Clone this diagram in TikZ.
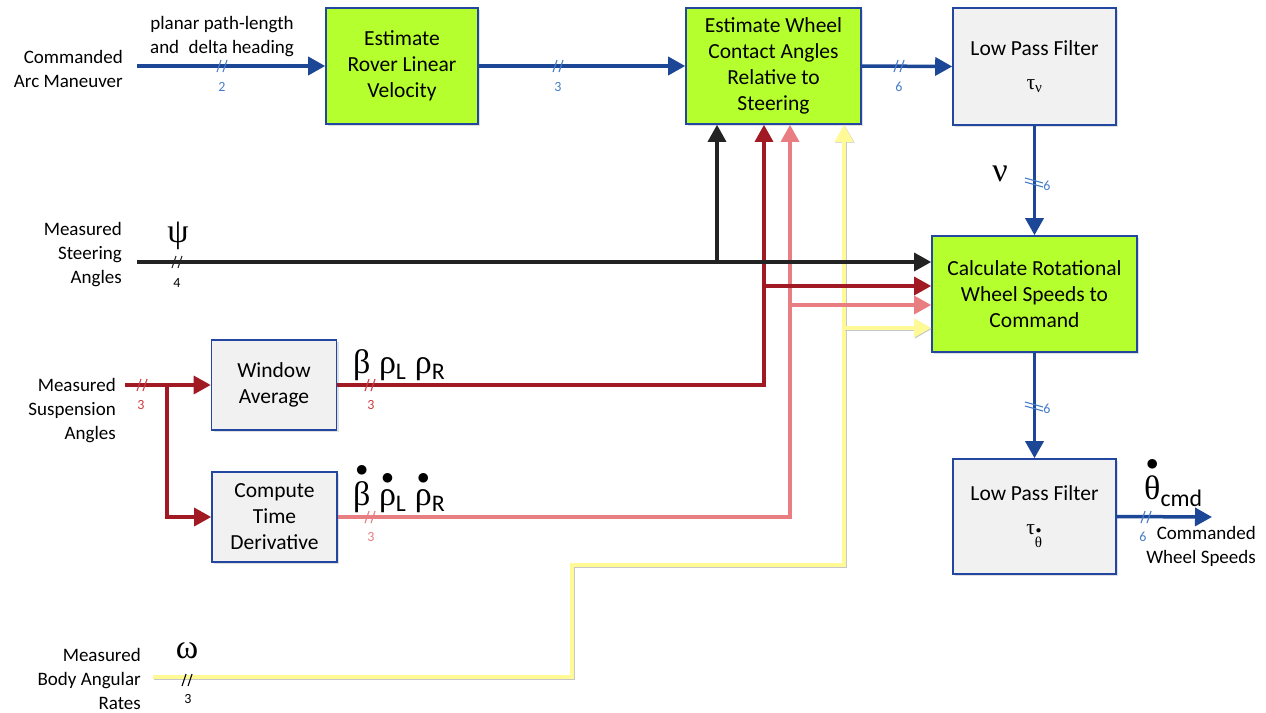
\documentclass[tikz,border=0pt]{standalone}
\usepackage{fontspec}
\usepackage{amsmath}
\setmainfont{Carlito}
\newfontfamily\gk{Liberation Serif}
\usetikzlibrary{arrows.meta,shadows}
\definecolor{boxgreen}{RGB}{182,255,46}
\definecolor{boxgray}{RGB}{241,241,241}
\definecolor{edgeblue}{RGB}{35,70,160}
\definecolor{flowblue}{RGB}{28,70,150}
\definecolor{numblue}{RGB}{70,125,200}
\definecolor{darkred}{RGB}{160,25,35}
\definecolor{numred}{RGB}{205,60,65}
\definecolor{pinkline}{RGB}{232,125,130}
\definecolor{yelline}{RGB}{255,250,150}
\definecolor{blackline}{RGB}{35,35,35}
\newcommand\dotover[1]{$\overset{\bullet}{\text{#1}}$}
\newcommand\sub[1]{\textsubscript{\fontspec{Carlito}#1}}
\tikzset{
  boxbase/.style={draw=edgeblue, line width=1.6pt, inner sep=0pt, align=center,
    font=\fontsize{21.5}{26}\selectfont,
    drop shadow={opacity=0.25, shadow xshift=2pt, shadow yshift=-2pt}},
  greenbox/.style={boxbase, fill=boxgreen},
  graybox/.style={boxbase, fill=boxgray},
  lbl/.style={font=\fontsize{19}{24}\selectfont, align=right, inner sep=0pt},
  num/.style={font=\fontsize{14}{14}\selectfont, inner sep=0pt},
  gklbl/.style={font=\gk\fontsize{34}{34}\selectfont, inner sep=0pt},
  tip/.style={-{Triangle[length=17pt,width=18pt]}},
  bflow/.style={draw=flowblue, line width=3.5pt},
  kflow/.style={draw=blackline, line width=3.2pt},
  rflow/.style={draw=darkred, line width=3.2pt},
  pflow/.style={draw=pinkline, line width=3.2pt},
  yflow/.style={draw=yelline, line width=3.2pt,
    preaction={draw=black!22, line width=4.2pt, transform canvas={xshift=0.8pt,yshift=-0.8pt}}},
  pics/dsl/.style={code={\draw[line width=1.1pt,#1] (-5,6)--(-1,-6) (1,6)--(5,-6);}},
  pics/dslv/.style={code={\draw[line width=1.1pt,#1] (-9,-5)--(9,0) (-9,-1)--(9,4);}},
}
\begin{document}
\begin{tikzpicture}[x=1pt,y=-1pt]
\useasboundingbox[fill=white] (0,0) rectangle (1266,712);

% ---- blocks
\node[greenbox, minimum width=152, minimum height=116] (b1) at (402,66) {Estimate\\Rover Linear\\Velocity};
\node[greenbox, minimum width=175, minimum height=116] (b2) at (773.5,66) {Estimate Wheel\\Contact Angles\\Relative to\\Steering};
\node[graybox, minimum width=163, minimum height=117] (lp1) at (1034.5,66.5) {Low Pass Filter\\[8pt]{\gk τ\textsubscript{ν}}};
\node[greenbox, minimum width=205, minimum height=116] (calc) at (1034.5,294) {Calculate Rotational\\Wheel Speeds to\\Command};
\node[graybox, minimum width=125, minimum height=90] (wa) at (274,385) {Window\\Average};
\node[graybox, minimum width=125, minimum height=90] (ctd) at (274.5,517) {Compute\\Time\\Derivative};
\node[graybox, minimum width=163, minimum height=115] (lp2) at (1034.5,516.5) {Low Pass Filter\\[8pt]{\gk τ\textsubscript{\dotover{θ}}}};

% ---- input labels
\node[lbl, anchor=east] (camL) at (123,69) {Commanded\\Arc Maneuver};
\node[lbl, anchor=east] (stL) at (122,255) {Measured\\Steering\\Angles};
\node[lbl, anchor=east] (suL) at (116,411) {Measured\\Suspension\\Angles};
\node[lbl, anchor=east] (omL) at (141,679) {Measured\\Body Angular\\Rates};
\node[lbl, anchor=east] (outL) at (1256,546) {Commanded\\Wheel Speeds};
\node[lbl, align=center] (ppl) at (222,37) {planar path-length\\and\enspace delta heading};

% ---- coordinates
\coordinate (camS) at (137,66);
\coordinate (stS) at (137,262);
\coordinate (stJ) at (717,262);
\coordinate (suS) at (125,385);
\coordinate (suJ) at (167,385);
\coordinate (waT) at (764,385);
\coordinate (waB) at (764,286);
\coordinate (ctT) at (790,517);
\coordinate (ctB) at (790,305);
\coordinate (omS) at (153,677);
\coordinate (omA) at (572,677);
\coordinate (omB) at (572,565);
\coordinate (omC) at (844,565);
\coordinate (omD) at (844,328);
\coordinate (outE) at (1212,517);

% ---- blue flow
\draw[bflow, tip] (camS) -- (b1.west);
\draw[bflow, tip] (b1.east) -- (b2.west);
\draw[bflow, tip] (b2.east) -- (lp1.west);
\draw[bflow, tip] (lp1.south) -- (calc.north);
\draw[bflow, tip] (calc.south) -- (lp2.north);
\draw[bflow, tip] (lp2.east) -- (outE);

% ---- yellow
\draw[yflow, tip] (omS) -- (omA) -- (omB) -- (omC) -- (omC |- b2.south);
\draw[yflow, tip] (omD) -- (calc.west |- omD);

% ---- pink
\draw[pflow, tip] (ctd.east) -- (ctT) -- (ctT |- b2.south);
\draw[pflow, tip] (ctB) -- (calc.west |- ctB);

% ---- dark red
\draw[rflow, tip] (suS) -- (wa.west);
\draw[rflow, tip] (suJ) -- (suJ |- ctd.west) -- (ctd.west);
\draw[rflow, tip] (wa.east) -- (waT) -- (waT |- b2.south);
\draw[rflow, tip] (waB) -- (calc.west |- waB);

% ---- black
\draw[kflow, tip] (stS) -- (calc.west |- stS);
\draw[kflow, tip] (stJ) -- (stJ |- b2.south);

% ---- slash marks and counts
\pic at (222,66) {dsl=numblue};
\node[num, text=numblue] (n1) at (222,87) {2};
\pic at (558,66) {dsl=numblue};
\node[num, text=numblue] (n2) at (558,87) {3};
\pic at (899,66) {dsl=numblue};
\node[num, text=numblue] (n3) at (899,87) {6};
\pic at (1034,183) {dslv=numblue};
\node[num, text=numblue] (n4) at (1047,186) {6};
\pic at (1034,407) {dslv=numblue};
\node[num, text=numblue] (n5) at (1047,409) {6};
\pic at (1146,517) {dsl=numblue};
\node[num, text=numblue] (n6) at (1143,537) {6};
\pic at (177,262) {dsl=blackline};
\node[num, text=black] (n7) at (177,283) {4};
\pic at (142,385) {dsl=numred};
\node[num, text=numred] (n8) at (141,405) {3};
\pic at (370,385) {dsl=numred};
\node[num, text=numred] (n9) at (371,405) {3};
\pic at (370,517) {dsl=pinkline};
\node[num, text=pinkline] (n10) at (371,537) {3};
\pic at (187,680) {dsl=black};
\node[num, text=black] (n11) at (188,699) {3};

% ---- signal symbols
\node[gklbl] (psi) at (178,236) {ψ};
\node[gklbl, anchor=base west] (bet) at (353,373) {β ρ\sub{L} ρ\sub{R}};
\node[gklbl, anchor=base west] (betd) at (353,505) {\dotover{β} \dotover{ρ}\sub{L} \dotover{ρ}\sub{R}};
\node[gklbl] (nu) at (1000,174) {ν};
\node[gklbl] (om) at (187,651) {ω};
\node[gklbl, anchor=base west] (thd) at (1144,499) {\dotover{θ}\sub{cmd}};
\end{tikzpicture}
\end{document}
